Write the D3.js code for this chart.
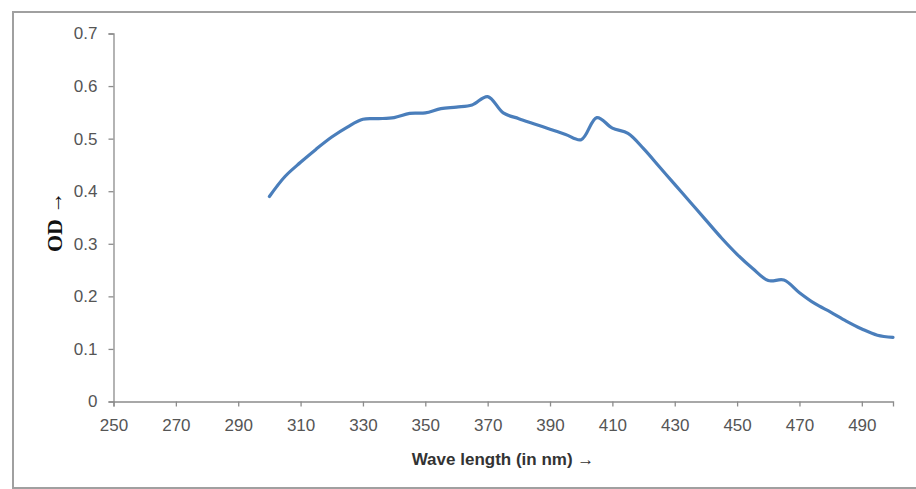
<!DOCTYPE html>
<html>
<head>
<meta charset="utf-8">
<script src="https://cdn.jsdelivr.net/npm/d3@7"></script>
<style>
	body { margin: 0; background: #fff; }
</style>
</head>
<body>
<div id="graphHolder1"></div>
<script>
	//OD spectrum chart

	//data (wavelength in nm, OD)
	var waveLengths = [300,305,310,315,320,325,330,335,340,345,350,355,360,365,370,375,380,385,390,395,400,
	                   405,410,415,420,425,430,435,440,445,450,455,460,465,470,475,480,485,490,495,500];
	var odValues = [0.390,0.428,0.455,0.480,0.503,0.522,0.537,0.538,0.540,0.548,0.549,0.557,0.560,0.564,0.580,0.549,0.538,0.528,0.518,0.508,0.498,
	                0.540,0.520,0.510,0.481,0.447,0.413,0.379,0.345,0.311,0.280,0.253,0.230,0.231,0.207,0.186,0.170,0.153,0.138,0.126,0.122];

	var xTicks = [250,270,290,310,330,350,370,390,410,430,450,470,490];
	var yTicks = [0,0.1,0.2,0.3,0.4,0.5,0.6,0.7];

	//Width and height
	var w = 916;
	var h = 489;

	//plot area edges
	var plotLeft = 113.5;
	var plotRight = 893;
	var plotTop = 33.5;
	var plotBottom = 401.5;

	//Create SVG element---------------------------------------------------------------------------------------------
	var svg = d3.select("#graphHolder1")
				.append("svg")
				.attr("width", w)
				.attr("height", h);

	//outer frame
	svg.append("rect")
	   .attr("x", 13)
	   .attr("y", 12)
	   .attr("width", 920)
	   .attr("height", 476)
	   .attr("fill", "none")
	   .attr("stroke", "#a0a0a0")
	   .attr("stroke-width", 2);

	var xScale = d3.scaleLinear().domain([250, 500]).range([plotLeft, plotRight]);
	var yScale = d3.scaleLinear().domain([0, 0.7]).range([plotBottom, plotTop]);

	//axes
	var xAxis = d3.axisBottom(xScale)
				  .tickValues(xTicks)
				  .tickSize(5)
				  .tickPadding(12)
				  .tickFormat(d3.format("d"));

	var yAxis = d3.axisLeft(yScale)
				  .tickValues(yTicks)
				  .tickSize(5)
				  .tickPadding(11)
				  .tickFormat(function(d) { return d === 0 ? "0" : d3.format(".1f")(d); });

	var gx = svg.append("g")
				.attr("transform", "translate(0," + plotBottom + ")")
				.call(xAxis);

	var gy = svg.append("g")
				.attr("transform", "translate(" + plotLeft + ",0)")
				.call(yAxis);

	[gx, gy].forEach(function(g) {
		g.select(".domain").attr("stroke", "#8c8c8c").attr("stroke-width", 1.3);
		g.selectAll(".tick line").attr("stroke", "#8c8c8c").attr("stroke-width", 1.3);
		g.selectAll(".tick text")
		 .attr("fill", "#555")
		 .style("font-family", "'Liberation Sans', Arial, sans-serif")
		 .style("font-size", "17px");
	});

	//the curve
	var line = d3.line()
				 .x(function(d) { return xScale(d[0]); })
				 .y(function(d) { return yScale(d[1]); })
				 .curve(d3.curveCatmullRom.alpha(0.5));

	var points = waveLengths.map(function(d, i) { return [d, odValues[i]]; });

	svg.append("path")
	   .datum(points)
	   .attr("d", line)
	   .attr("fill", "none")
	   .attr("stroke", "#4a7ebb")
	   .attr("stroke-width", 3.2)
	   .attr("stroke-linejoin", "round")
	   .attr("stroke-linecap", "round");

	//axis titles
	svg.append("text")
	   .attr("x", 503)
	   .attr("y", 465)
	   .attr("text-anchor", "middle")
	   .attr("fill", "#333")
	   .style("font-family", "'Liberation Sans', Arial, sans-serif")
	   .style("font-weight", "bold")
	   .style("font-size", "17px")
	   .text("Wave length (in nm) \u2192");

	svg.append("text")
	   .attr("transform", "translate(62,252) rotate(-90)")
	   .attr("text-anchor", "start")
	   .attr("fill", "#111")
	   .style("font-family", "'Liberation Serif', 'Times New Roman', serif")
	   .style("font-weight", "bold")
	   .style("font-size", "22px")
	   .text("OD \u2192");
</script>
</body>
</html>
